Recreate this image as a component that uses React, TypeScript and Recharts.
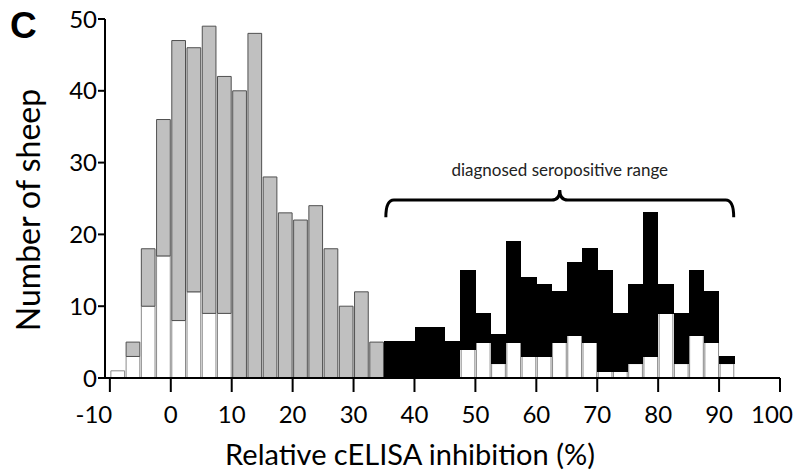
import React from "react"
import { BarChart, Bar, XAxis, YAxis, ReferenceArea } from "recharts"

// histogram bins, 2.5 % wide, by left edge
const binStarts = [
  -10, -7.5, -5, -2.5, 0, 2.5, 5, 7.5, 10, 12.5, 15, 17.5, 20, 22.5, 25, 27.5, 30, 32.5,
  35, 37.5, 40, 42.5, 45, 47.5, 50, 52.5, 55, 57.5, 60, 62.5, 65, 67.5, 70, 72.5, 75, 77.5,
  80, 82.5, 85, 87.5, 90,
]
const totalCounts = [
  1, 5, 18, 36, 47, 46, 49, 42, 40, 48, 28, 23, 22, 24, 18, 10, 12, 5,
  5, 5, 7, 7, 5, 15, 9, 6, 19, 14, 13, 12, 16, 18, 15, 9, 13, 23,
  13, 9, 15, 12, 3,
]
const whiteCounts = [
  1, 3, 10, 17, 8, 12, 9, 9, 0, 0, 0, 0, 0, 0, 0, 0, 0, 0,
  0, 0, 0, 0, 0, 4, 5, 2, 5, 3, 3, 5, 6, 5, 1, 1, 2, 3,
  9, 2, 6, 5, 2,
]
const positiveFrom = 35
const xTicks = [-10, 0, 10, 20, 30, 40, 50, 60, 70, 80, 90, 100]
const yTicks = [0, 10, 20, 30, 40, 50]
const binWidth = 2.5
const xDomain: [number, number] = [-10.8, 100]

const rows = binStarts.map((s, i) => {
  const rest = totalCounts[i] - whiteCounts[i]
  return {
    x: s + binWidth / 2,
    white: whiteCounts[i],
    gray: s < positiveFrom ? rest : 0,
    black: s >= positiveFrom ? rest : 0,
  }
})

const FONT = "Lato, 'Open Sans', sans-serif"

const XTick = (props: any) => {
  const { x, y, payload } = props
  // end labels sit a little to the left in the original figure
  const shift = payload.value === -10 ? -16 : payload.value === 100 ? -8 : 0
  return (
    <text x={x + shift} y={y} dy="0.71em" textAnchor="middle" fontSize={24} fontFamily={FONT} fill="#000">
      {payload.value}
    </text>
  )
}

const Bracket = (props: any) => {
  const { x, y, width, height } = props
  const top = y
  const bottom = y + height
  const mid = top + (bottom - top) * 0.37
  const cx = x + width * 0.5
  const r = 8
  const d = [
    `M ${x} ${bottom}`,
    `Q ${x} ${mid} ${x + r} ${mid}`,
    `L ${cx - r} ${mid}`,
    `Q ${cx} ${mid} ${cx} ${top}`,
    `Q ${cx} ${mid} ${cx + r} ${mid}`,
    `L ${x + width - r} ${mid}`,
    `Q ${x + width} ${mid} ${x + width} ${bottom}`,
  ].join(" ")
  return (
    <g>
      <path d={d} fill="none" stroke="#000" strokeWidth={3} />
      <text x={cx} y={top - 14} textAnchor="middle" fontSize={17} fontFamily={FONT} fill="#222">
        diagnosed seropositive range
      </text>
    </g>
  )
}

export default function App() {
  const plotW = 796 - 105 - 16
  const barW = (plotW / (xDomain[1] - xDomain[0])) * binWidth
  return (
    <div style={{ position: "absolute", left: 0, top: 0, width: 796, height: 471, background: "#fff" }}>
      <div
        style={{
          position: "absolute",
          left: 10,
          top: 2,
          fontFamily: "'Liberation Sans', Arial, sans-serif",
          fontWeight: "bold",
          fontSize: 37,
          lineHeight: "48px",
        }}
      >
        C
      </div>
      <BarChart width={796} height={471} data={rows} margin={{ top: 19, right: 16, left: 0, bottom: 33 }} barCategoryGap={0}>
        <XAxis
          dataKey="x"
          type="number"
          domain={xDomain}
          ticks={xTicks}
          allowDataOverflow
          height={60}
          axisLine={{ stroke: "#000", strokeWidth: 2 }}
          tickLine={{ stroke: "#000", strokeWidth: 2 }}
          tickSize={14}
          tickMargin={14}
          tick={<XTick />}
          label={() => (
            <text x={410} y={465} textAnchor="middle" fontSize={29} fontFamily={FONT} fill="#000">
              Relative cELISA inhibition (%)
            </text>
          )}
        />
        <YAxis
          type="number"
          domain={[0, 50]}
          ticks={yTicks}
          width={105}
          axisLine={{ stroke: "#000", strokeWidth: 2 }}
          tickLine={{ stroke: "#000", strokeWidth: 2 }}
          tickSize={7}
          tickMargin={1}
          tick={{ fontSize: 24, fill: "#000", fontFamily: FONT }}
          label={() => (
            <text
              x={27}
              y={210}
              transform="rotate(-90 27 210)"
              textAnchor="middle"
              dominantBaseline="central"
              fontSize={32}
              fontFamily={FONT}
              fill="#000"
            >
              Number of sheep
            </text>
          )}
        />
        <Bar dataKey="white" stackId="a" fill="#fff" stroke="#8a8a8a" strokeWidth={1} barSize={barW} isAnimationActive={false} />
        <Bar dataKey="gray" stackId="a" fill="#c0c0c0" stroke="#505050" strokeWidth={1} barSize={barW} isAnimationActive={false} />
        <Bar
          dataKey="black"
          stackId="a"
          fill="#000"
          stroke="#000"
          strokeWidth={1.6}
          shapeRendering="crispEdges"
          barSize={barW}
          isAnimationActive={false}
        />
        <ReferenceArea x1={35.3} x2={92.4} y1={22.4} y2={26.2} shape={<Bracket />} />
      </BarChart>
    </div>
  )
}
